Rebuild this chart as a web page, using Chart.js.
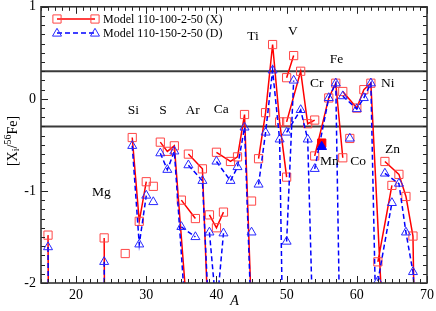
<!DOCTYPE html>
<html><head><meta charset="utf-8">
<script src="https://cdn.jsdelivr.net/npm/chart.js@4"></script>
<style>html,body{margin:0;padding:0;background:#fff}#wrap{width:436px;height:311px}</style>
</head><body><div id="wrap"><canvas id="c" width="436" height="311"></canvas></div>
<script>
// ---- data ----
const elementOf = ['O','O','Mg','Mg','Al','Si','Si','Si','P','S','S','S','S','Cl','Cl','Ar','Ar','Ar','K','K','K',
  'Ca','Ca','Ca','Ca','Ca','Sc','Ti','Ti','Ti','Ti','Ti','V','V','Cr','Cr','Cr','Cr','Fe','Fe','Fe','Fe','Co',
  'Ni','Ni','Ni','Ni','Ni','Cu','Cu','Zn','Zn','Zn','Zn','Zn'];
const massNumber = [16,17,24,25,27,28,29,30,31,32,33,34,36,35,37,36,38,40,39,40,41,
  40,42,43,44,46,45,46,47,48,49,50,50,51,50,52,53,54,54,56,57,58,59,
  58,60,61,62,64,63,65,64,66,67,68,70];
const modelX = [-1.48,-15,-1.51,-15,-1.68,-0.42,-1.33,-0.90,-0.95,-0.47,-0.57,-0.51,-2.5,-1.10,-1.30,-0.60,-0.76,-4.8,-1.26,-1.40,-1.23,
  -0.58,-0.68,-0.63,-0.17,-4.5,-1.11,-0.65,-0.15,0.59,-0.25,-0.85,0.23,0.47,-0.25,0.30,-0.27,-0.23,-0.62,0.01,0.17,-0.64,-0.43,
  0.08,-0.10,0.10,0.17,-2.9,-1.77,-0.94,-0.68,-0.82,-1.06,-1.49,-11];
const modelD = [-1.61,-15,-1.77,-15,null,-0.51,-1.58,-1.05,-1.12,-0.59,-0.77,-0.57,-2.8,-1.39,-1.50,-0.72,-0.89,-4.1,-1.45,-2.3,-1.46,
  -0.68,-0.89,-0.74,-0.31,-4.7,-1.45,-0.93,-0.365,0.31,-0.44,-5.2,-1.55,0.20,-0.365,-0.12,-0.44,-3.2,-0.76,0.01,0.17,-4.5,-0.43,
  0.03,-0.11,0.01,0.17,-7,-1.98,-1.13,-0.81,-0.92,-1.45,-1.88,-4];
const mn55A = [55];
const mn55X = [-0.48];
const mn55D = [-0.52];
const seriesNames = ['Model 110-100-2-50 (X)','Model 110-150-2-50 (D)'];
const xTicks = [20,30,40,50,60,70];
const yTicks = [-2,-1,0,1];
const refLines = [0.3,-0.3];
const elementLabels = ['Mg','Si','S','Ar','Ca','Ti','V','Cr','Fe','Mn','Co','Ni','Zn'];
const labelA = [23.6,28.15,32.4,36.6,40.7,45.2,50.9,54.3,57.1,56.1,60.2,64.4,65.1];
const labelV = [-1.02,-0.13,-0.13,-0.13,-0.12,0.68,0.73,0.17,0.43,-0.68,-0.68,0.17,-0.545];

// ---- styles ----
const RED = 'rgb(255,0,0)', RED_M = 'rgb(255,70,70)';
const BLUE = 'rgb(0,0,255)', BLUE_M = 'rgb(40,40,255)';
const FONT = '"Liberation Serif", "DejaVu Serif", serif';

function buildData(vals){
  const out = [];
  for (let i = 0; i < massNumber.length; i++){
    if (i > 0 && elementOf[i] !== elementOf[i-1]) out.push({x:(massNumber[i-1]+massNumber[i])/2, y:null});
    if (vals[i] !== null) out.push({x:massNumber[i], y:vals[i]});
  }
  return out;
}
const clipArea = {left:6, top:6, right:6, bottom:0};

const datasets = [
  {label:'MnD', data: mn55A.map((a,i)=>({x:a,y:mn55D[i]})), showLine:false, pointStyle:'triangle', pointRadius:5.5,
   backgroundColor:BLUE, borderColor:BLUE, pointBorderWidth:1, order:0, clip:clipArea},
  {label:'MnX', data: mn55A.map((a,i)=>({x:a,y:mn55X[i]})), showLine:false, pointStyle:'rect', pointRadius:5.8,
   backgroundColor:RED, borderColor:RED, pointBorderWidth:1, order:1, clip:clipArea},
  {label:seriesNames[1], data: buildData(modelD), showLine:true, spanGaps:false, borderColor:BLUE, borderWidth:1.5, borderDash:[5,3],
   pointStyle:'triangle', pointRadius:5.2, pointBorderColor:BLUE_M, pointBackgroundColor:'rgba(0,0,0,0)', pointBorderWidth:1,
   order:2, clip:clipArea, tension:0},
  {label:seriesNames[0], data: buildData(modelX), showLine:true, spanGaps:false, borderColor:RED, borderWidth:1.5,
   pointStyle:'rect', pointRadius:5.8, pointBorderColor:RED_M, pointBackgroundColor:'rgba(0,0,0,0)', pointBorderWidth:1,
   order:3, clip:clipArea, tension:0}
];

function drawMarker(ctx, style, x, y, color){
  ctx.save(); ctx.strokeStyle = color; ctx.lineWidth = 1; ctx.setLineDash([]);
  ctx.beginPath();
  if (style === 'rect'){ ctx.rect(x-4.1, y-4.1, 8.2, 8.2); }
  else { const r = 5.2; ctx.moveTo(x, y-r); ctx.lineTo(x+r*0.866, y+r/2); ctx.lineTo(x-r*0.866, y+r/2); ctx.closePath(); }
  ctx.stroke(); ctx.restore();
}

const framePlugin = {
  id:'frame',
  beforeDatasetsDraw(chart){
    const {ctx, chartArea:a, scales:{y}} = chart;
    ctx.save(); ctx.strokeStyle = '#3a3a3a'; ctx.lineWidth = 2;
    refLines.forEach(v=>{ const py = y.getPixelForValue(v); ctx.beginPath(); ctx.moveTo(a.left,py); ctx.lineTo(a.right,py); ctx.stroke(); });
    ctx.restore();
  },
  afterDatasetsDraw(chart){
    const {ctx, scales:{x,y}} = chart;
    ctx.save(); ctx.fillStyle = '#000'; ctx.font = '13.5px ' + FONT; ctx.textAlign = 'center'; ctx.textBaseline = 'middle';
    elementLabels.forEach((t,i)=> ctx.fillText(t, x.getPixelForValue(labelA[i]), y.getPixelForValue(labelV[i])));
    ctx.restore();
  },
  afterDraw(chart){
    const {ctx, chartArea:a, scales:{x,y}} = chart;
    ctx.save();
    // ticks
    ctx.strokeStyle = '#222'; ctx.lineWidth = 1;
    ctx.beginPath();
    for (let v = Math.ceil(x.min); v <= x.max; v++){
      const px = Math.round(x.getPixelForValue(v)) + 0.5; const len = (v % 10 === 0) ? 7 : 4;
      ctx.moveTo(px, a.bottom); ctx.lineTo(px, a.bottom - len);
      ctx.moveTo(px, a.top); ctx.lineTo(px, a.top + len);
    }
    for (let k = Math.round(y.min*10); k <= Math.round(y.max*10); k++){
      const py = Math.round(y.getPixelForValue(k/10)) + 0.5; const len = (k % 10 === 0) ? 7 : 4;
      ctx.moveTo(a.left, py); ctx.lineTo(a.left + len, py);
      ctx.moveTo(a.right, py); ctx.lineTo(a.right - len, py);
    }
    ctx.stroke();
    // frame
    ctx.strokeStyle = '#333'; ctx.lineWidth = 1.6;
    ctx.strokeRect(a.left, a.top, a.right - a.left, a.bottom - a.top);
    // legend
    const lx0 = 57, lx1 = 95, ly = [19, 33];
    ctx.lineWidth = 1.5; ctx.strokeStyle = RED; ctx.setLineDash([]);
    ctx.beginPath(); ctx.moveTo(lx0, ly[0]); ctx.lineTo(lx1, ly[0]); ctx.stroke();
    ctx.strokeStyle = BLUE; ctx.setLineDash([5,3]);
    ctx.beginPath(); ctx.moveTo(lx0, ly[1]); ctx.lineTo(lx1, ly[1]); ctx.stroke();
    ctx.setLineDash([]);
    drawMarker(ctx,'rect',lx0,ly[0],RED_M); drawMarker(ctx,'rect',lx1,ly[0],RED_M);
    drawMarker(ctx,'tri',lx0,ly[1]+0.5,BLUE_M); drawMarker(ctx,'tri',lx1,ly[1]+0.5,BLUE_M);
    ctx.fillStyle = '#000'; ctx.font = '12px ' + FONT; ctx.textAlign = 'left'; ctx.textBaseline = 'middle';
    ctx.fillText(seriesNames[0], 103, ly[0]+0.5); ctx.fillText(seriesNames[1], 103, ly[1]+0.5);
    // x title
    ctx.font = 'italic 14px ' + FONT; ctx.textAlign = 'center'; ctx.textBaseline = 'middle';
    ctx.fillText('A', (a.left + a.right)/2 + 0.5, 301.5);
    // y title [X_i/56Fe]
    ctx.translate(13, 141); ctx.rotate(-Math.PI/2);
    const parts = [['[X',14,0],['i',10,3.5],['/',14,0],['56',10,-5],['Fe]',14,0]];
    let total = 0;
    parts.forEach(p=>{ ctx.font = p[1]+'px '+FONT; total += ctx.measureText(p[0]).width; });
    let cx = -total/2; ctx.textAlign = 'left'; ctx.textBaseline = 'middle';
    parts.forEach(p=>{ ctx.font = p[1]+'px '+FONT; ctx.fillText(p[0], cx, p[2]); cx += ctx.measureText(p[0]).width; });
    ctx.restore();
  }
};

new Chart(document.getElementById('c'), {
  type:'scatter',
  data:{datasets},
  options:{
    responsive:false, animation:false, devicePixelRatio:1,
    layout:{padding:{top:6, right:9, left:0, bottom:0}},
    plugins:{legend:{display:false}, tooltip:{enabled:false}},
    scales:{
      x:{type:'linear', min:15, max:70,
         grid:{display:false}, border:{display:false},
         afterBuildTicks:(s)=>{ s.ticks = xTicks.map(v=>({value:v})); },
         afterFit:(s)=>{ s.height = 28; s.paddingLeft = 0; s.paddingRight = 0; },
         ticks:{color:'#000', padding:-4, maxRotation:0, autoSkip:false, font:{family:FONT, size:14}}},
      y:{type:'linear', min:-2, max:1,
         grid:{display:false, drawTicks:false}, border:{display:false},
         afterBuildTicks:(s)=>{ s.ticks = yTicks.map(v=>({value:v})); },
         afterFit:(s)=>{ s.width = 41; s.paddingTop = 0; s.paddingBottom = 0; },
         ticks:{color:'#000', padding:5, autoSkip:false, font:{family:FONT, size:14}}}
    }
  },
  plugins:[framePlugin]
});
</script></body></html>
